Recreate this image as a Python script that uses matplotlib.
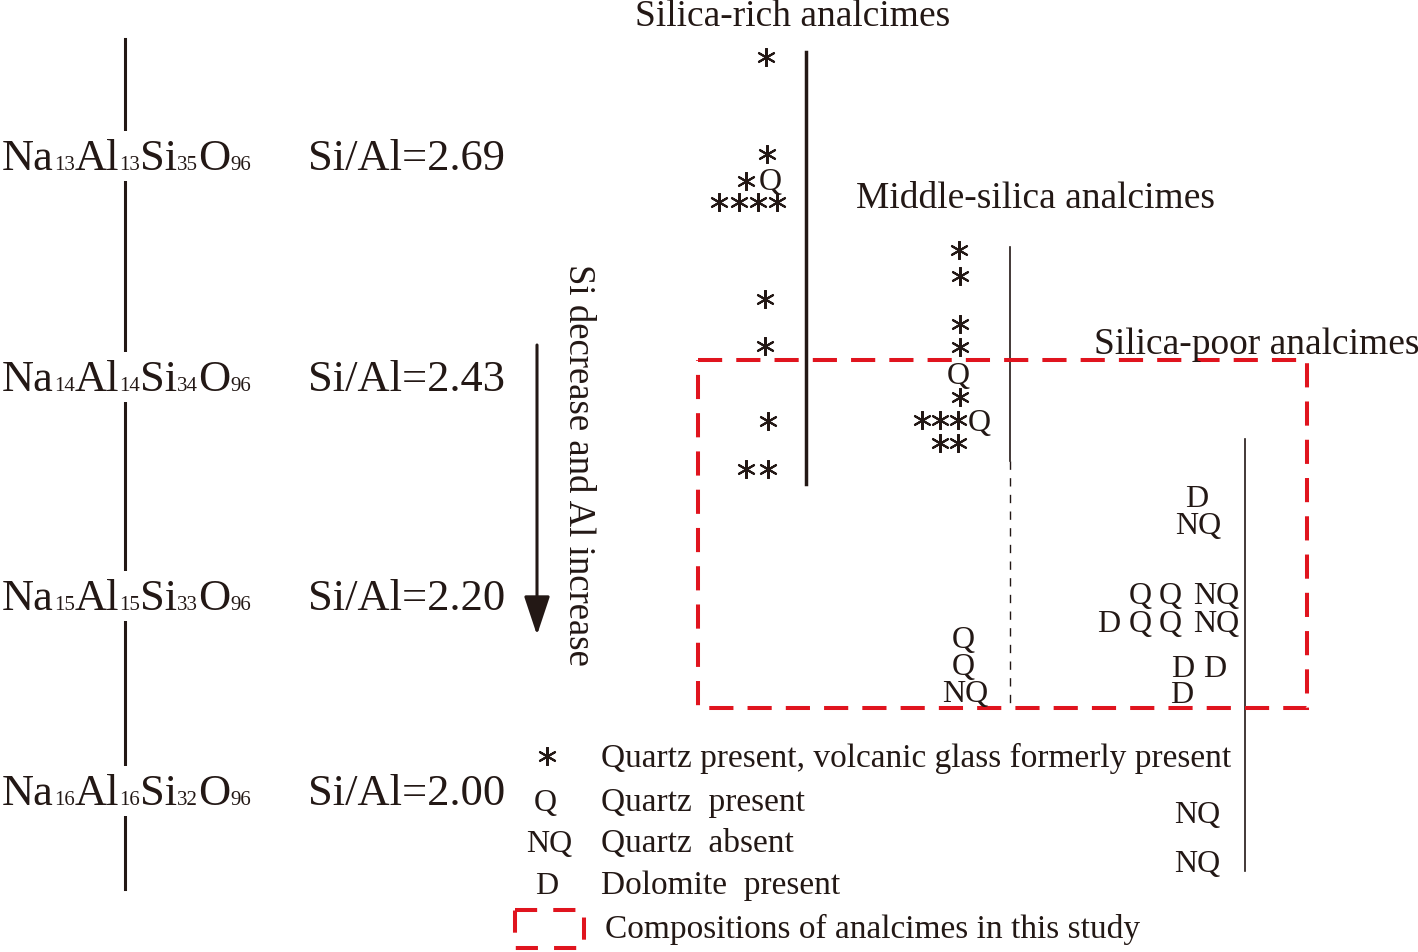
import matplotlib.pyplot as plt
from matplotlib.patches import Rectangle

plt.rcParams['font.family'] = ['Liberation Serif', 'DejaVu Serif']

INK = '#231815'
RED = '#e0141e'

# formulas (main part, subscript) and Si/Al ratios on the left scale
formula_parts = [[('Na', '13'), ('Al', '13'), ('Si', '35'), ('O', '96')],
                 [('Na', '14'), ('Al', '14'), ('Si', '34'), ('O', '96')],
                 [('Na', '15'), ('Al', '15'), ('Si', '33'), ('O', '96')],
                 [('Na', '16'), ('Al', '16'), ('Si', '32'), ('O', '96')]]
ratios = ['Si/Al=2.69', 'Si/Al=2.43', 'Si/Al=2.20', 'Si/Al=2.00']
row_base = [170, 391, 610, 805]

# group headings
groups = ['Silica-rich analcimes', 'Middle-silica analcimes', 'Silica-poor analcimes']
group_x = [793, 1036, 1257]
group_base = [26, 208, 354]

# sample symbols (diagram units, y grows downward)
rich_sym = ['*', '*', '*', 'Q', '*', '*', '*', '*', '*', '*', '*', '*', '*']
rich_x = [766, 767, 746, 770, 719, 739, 758, 777, 765, 765, 768, 746, 768]
rich_y = [58, 155, 182, 180, 203, 203, 203, 203, 300, 347, 422, 470, 470]

mid_sym = ['*', '*', '*', '*', 'Q', '*', '*', '*', '*', 'Q', '*', '*', 'Q', 'Q', 'NQ']
mid_x = [959, 960, 960, 960, 958, 960, 922, 940, 958, 979, 940, 958, 963, 963, 965]
mid_y = [251, 277, 325, 348, 374, 398, 421, 421, 421, 421, 444, 444, 638, 665, 692]

poor_sym = ['D', 'NQ', 'Q', 'Q', 'NQ', 'D', 'Q', 'Q', 'NQ', 'D', 'D', 'D', 'NQ', 'NQ']
poor_x = [1197, 1198, 1140, 1170, 1216, 1109, 1140, 1170, 1216, 1183, 1215, 1182, 1197, 1197]
poor_y = [497, 524, 594, 594, 594, 622, 622, 622, 622, 667, 667, 693, 813, 862]

# legend entries
leg_sym = ['*', 'Q', 'NQ', 'D']
leg_sym_x = [547, 545, 549, 547]
leg_txt = ['Quartz present, volcanic glass formerly present', 'Quartz  present',
           'Quartz  absent', 'Dolomite  present']
leg_base = [767, 811, 852, 894]
box_txt = 'Compositions of analcimes in this study'

fig = plt.figure(figsize=(14.18, 9.53), dpi=100)
ax = fig.add_axes([0, 0, 1, 1])
ax.set_xlim(0, 1418)
ax.set_ylim(953, 0)
ax.axis('off')
renderer = fig.canvas.get_renderer()

# left scale line, broken by the formulas
ax.plot([125, 125], [40, 890], color=INK, lw=2.2, zorder=1)
for parts, r, yb in zip(formula_parts, ratios, row_base):
    x = 2
    for main, sub in parts:
        t = ax.text(x, yb, main, fontsize=32, color=INK, va='baseline', zorder=5)
        x += t.get_window_extent(renderer).width
        t = ax.text(x, yb, sub, fontsize=15, color=INK, va='baseline', zorder=5)
        x += t.get_window_extent(renderer).width
    ax.add_patch(Rectangle((0, yb - 38), x, 50, facecolor='white', edgecolor='none', zorder=2))
    ax.text(308, yb, r, fontsize=32, color=INK, va='baseline', ha='left')

# arrow + rotated note
ax.annotate('', xy=(537, 636), xytext=(537, 346),
            arrowprops=dict(arrowstyle='-|>,head_length=2.4,head_width=0.8', lw=2.2,
                            color=INK, mutation_scale=10, shrinkA=0, shrinkB=0))
ax.text(578, 465, 'Si decrease and Al increase', rotation=-90, fontsize=26.5,
        color=INK, ha='center', va='center')

for g, gx, gb in zip(groups, group_x, group_base):
    ax.text(gx, gb, g, fontsize=27, color=INK, ha='center', va='baseline', zorder=6)

# group range lines
ax.plot([806, 806], [53, 485], color=INK, lw=2.5)
ax.plot([1010, 1010], [248, 462], color=INK, lw=1.2)
ax.plot([1010, 1010], [462, 705], color=INK, lw=1.0, ls=(0, (6, 6)))
ax.plot([1245, 1245], [440, 872], color=INK, lw=1.2)

# compositions of this study
ax.add_patch(Rectangle((698, 361), 609, 348, fill=False, edgecolor=RED, lw=2.9,
                       ls=(0, (6, 3.5)), zorder=3))


def put(syms, xs, ys):
    for s, x, y in zip(syms, xs, ys):
        if s == '*':
            ax.plot(x, y, marker=(6, 2, 0), ms=13.5, mew=1.5, color=INK, zorder=4)
        else:
            ax.text(x, y + 10, s, fontsize=23, color=INK, ha='center', va='baseline', zorder=4)


put(rich_sym, rich_x, rich_y)
put(mid_sym, mid_x, mid_y)
put(poor_sym, poor_x, poor_y)

# legend
put(leg_sym, leg_sym_x, [b - 10 for b in leg_base])
for t, yb in zip(leg_txt, leg_base):
    ax.text(601, yb, t, fontsize=24, color=INK, ha='left', va='baseline')
ax.add_patch(Rectangle((515, 911), 69, 38, fill=False, edgecolor=RED, lw=2.9,
                       ls=(0, (5.5, 4))))
ax.text(605, 938, box_txt, fontsize=24, color=INK, ha='left', va='baseline')

fig.savefig('out.png', dpi=100)
